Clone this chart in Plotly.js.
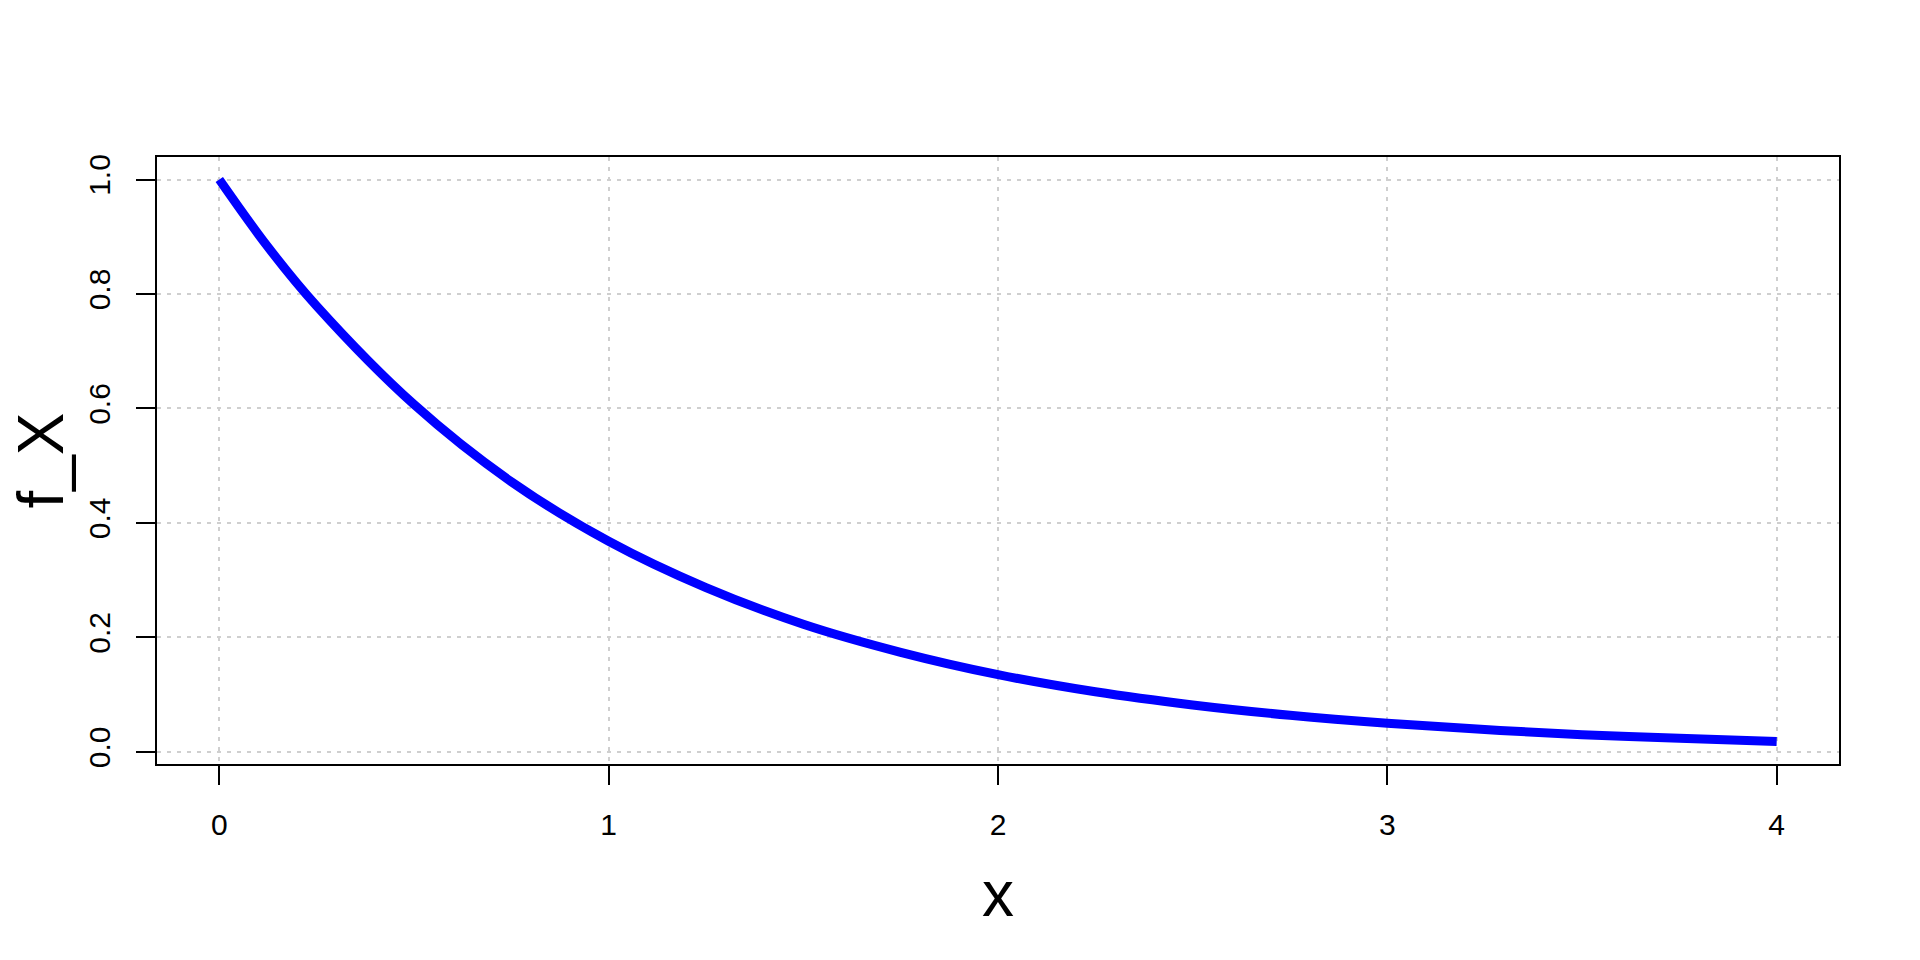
<!DOCTYPE html>
<html>
<head>
<meta charset="utf-8">
<script src="https://cdn.plot.ly/plotly-3.0.1.min.js"></script>
<style>html,body{margin:0;padding:0;background:#fff;}#chart{width:1920px;height:960px;}</style>
</head>
<body>
<div id="chart"></div>
<script>
// Values
const xValues = [0, 0.125, 0.25, 0.5, 0.75, 1, 1.25, 1.5, 1.75, 2, 2.25, 2.5, 2.75, 3, 3.25, 3.5, 3.75, 4];
const fValues = [1.000, 0.882, 0.779, 0.607, 0.472, 0.368, 0.287, 0.223, 0.174, 0.135, 0.105, 0.082, 0.064, 0.050, 0.039, 0.030, 0.024, 0.018];
const xTicks = [0, 1, 2, 3, 4];
const yTicks = [0, 0.2, 0.4, 0.6, 0.8, 1.0];
const xLabel = 'x';
const yLabel = 'f_X';

const FONT = 'Liberation Sans, Arial, Helvetica, sans-serif';

const trace = {
  x: xValues, y: fValues, type: 'scatter', mode: 'lines',
  line: {color: '#0000ff', width: 9, shape: 'spline'},
  hoverinfo: 'skip'
};

const axisCommon = {
  showline: true, linecolor: '#000', linewidth: 2, mirror: true,
  ticks: 'outside', ticklen: 19, tickwidth: 2, tickcolor: '#000',
  showgrid: true, gridcolor: '#cfcfcf', gridwidth: 2, griddash: '4px,6px',
  zeroline: false,
  tickfont: {family: FONT, size: 30, color: '#000'}
};

const layout = {
  width: 1920, height: 960,
  margin: {l: 157, r: 81, t: 157, b: 196},
  paper_bgcolor: '#fff', plot_bgcolor: '#fff',
  showlegend: false,
  xaxis: Object.assign({}, axisCommon, {
    range: [-0.16, 4.16], tickvals: xTicks, ticktext: xTicks.map(String),
    ticklabelstandoff: 14
  }),
  yaxis: Object.assign({}, axisCommon, {
    range: [-0.0211, 1.0393], tickvals: yTicks, ticktext: yTicks.map(v => v.toFixed(1)),
    tickangle: -90, ticklabelstandoff: 14
  }),
  annotations: [
    {text: xLabel, xref: 'paper', yref: 'paper', x: 0.5, y: (764 - 894) / 607,
     xanchor: 'center', yanchor: 'middle', showarrow: false,
     font: {family: FONT, size: 64, color: '#000'}},
    {text: yLabel, xref: 'paper', yref: 'paper', x: (40 - 157) / 1682, y: 0.5,
     xanchor: 'center', yanchor: 'middle', textangle: -90, showarrow: false,
     font: {family: FONT, size: 64, color: '#000'}}
  ]
};

Plotly.newPlot('chart', [trace], layout, {staticPlot: true, displayModeBar: false});
</script>
</body>
</html>
